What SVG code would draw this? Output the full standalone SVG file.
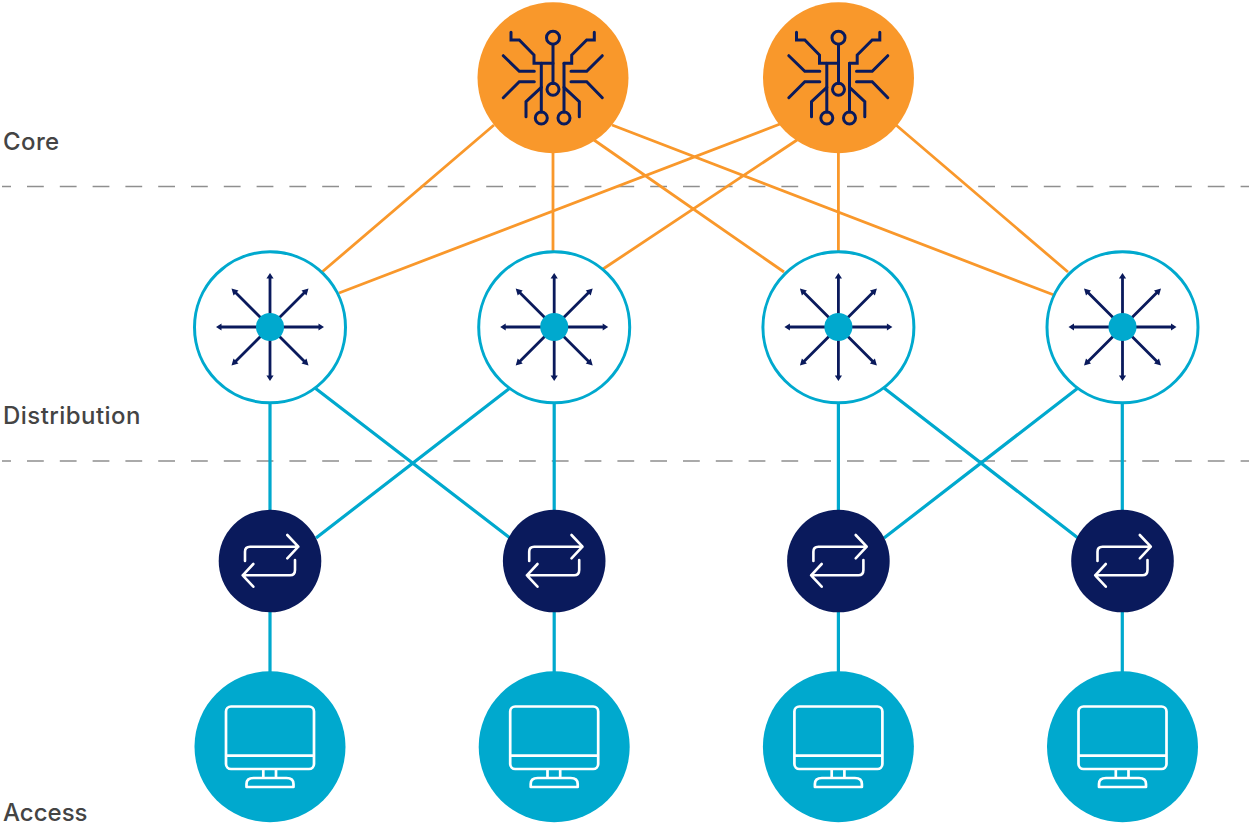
<svg xmlns="http://www.w3.org/2000/svg" width="1249" height="824" viewBox="0 0 1249 824">
<style>
.lbl{font-family:"Inter","Liberation Sans",sans-serif;font-size:24px;font-weight:500;fill:#444444}
.dash{stroke:#8f8f8f;stroke-width:1.3;stroke-dasharray:16.8 16;fill:none}
.o{stroke:#F9982B;stroke-width:2.8;fill:none}
.b{stroke:#00A9CE;stroke-width:3.2;fill:none}
.core{fill:#F9982B}
.ci{fill:none;stroke:#0A1A5C;stroke-width:3;stroke-linecap:round;stroke-linejoin:miter}
.dist{fill:#fff;stroke:#00A9CE;stroke-width:3}
.hub{fill:#00A9CE}
.di{fill:none;stroke:#0A1A5C;stroke-width:2.8}
.dh{fill:#0A1A5C}
.sw{fill:#0A1A5C}
.si{fill:none;stroke:#fff;stroke-width:2.6;stroke-linecap:round;stroke-linejoin:round}
.acc{fill:#00A9CE}
.ai{fill:none;stroke:#fff;stroke-width:2.7;stroke-linejoin:round}
</style>
<defs>
<g id="coreIcon">
<circle cx="0" cy="-39.3" r="6.5"/><circle cx="0" cy="12.3" r="6"/><circle cx="-11.7" cy="41" r="6"/><circle cx="11" cy="41" r="6"/>
<path d="M0-32.8V6.5M-11.7-13.7V35M11-13.7V35"/>
<path d="M-42-44.7V-37H-33.700L-19-22V-13.700H0"/>
<path d="M41.300-44.700V-37H33.700L18.700-22V-13.700H11"/>
<path d="M-49.700-21.300L-33.700-5.700H-18.700M-49.700 20.700L-33.700 4.700H-18.700"/>
<path d="M49.300-21.300L33.700-5.700H18M49.300 20.700L33.700 4.700H18"/>
<path d="M-11.700 10.300L-27 24.700V39.700M11 10.300L26.300 24.700V39.700"/>
</g>
<g id="distIcon">
<path class="di" d="M0-50V50M-50 0H50M-35-35L35 35M35-35L-35 35"/>
<g class="dh">
<path d="M0-54L3.600-48.500H-3.600ZM0 54L3.600 48.500H-3.600ZM-54 0L-48.500-3.600V3.600ZM54 0L48.500-3.600V3.600Z"/>
<path d="M38.500-38.500L36.500-31.500L31.500-36.500ZM-38.500-38.500L-31.500-36.500L-36.500-31.500ZM38.500 38.500L31.500 36.500L36.500 31.500ZM-38.500 38.500L-36.500 31.500L-31.500 36.500Z"/>
</g>
<circle class="hub" r="14"/>
</g>
<g id="swIcon" class="si">
<path d="M-25 0V-9.300Q-25-14.300-20-14.300H28.300M17.300-26L28.300-14.300L17.300-2.700"/>
<path d="M25-1V9Q25 14.300 20 14.300H-27.300M-16.700 3L-27.300 14.300L-16.700 25.700"/>
</g>
<g id="monIcon" class="ai">
<rect x="-44" y="-40.500" width="88" height="62.500" rx="5"/>
<path d="M-44 8.700H44M-6.700 22V31M6 22V31"/>
<path d="M-23.500 40V37Q-23.500 31-16.500 31H16.500Q23.500 31 23.500 37V40Z"/>
</g>
</defs>
<g id="tier-lines">
<line class="dash" x1="2" y1="186.500" x2="1249" y2="186.500" stroke-dashoffset="7.800"/>
<line class="dash" x1="2" y1="461" x2="1249" y2="461" stroke-dashoffset="7.800"/>
</g>
<g id="connectors">
<path class="o" d="M494 125L322 272M553 150V253M594 140L784 272M612 125L1054 295M780 124L339 293M797 140L603 269M838.400 150V253M896 125L1068 272"/>
<path class="b" d="M270 403V511M315 388L510 538M510 388L316 538M554.200 403V511M838.400 403V511M884 388L1078 538M1078 388L884 538M1122.300 398.500V511"/>
<path class="b" d="M270 611V673M554.200 611V673M838.400 611V673M1122.300 611V673"/>
</g>
<g id="core-1"><circle class="core" cx="553" cy="77.800" r="75.500"/><use href="#coreIcon" class="ci" x="553" y="77"/></g>
<g id="core-2"><circle class="core" cx="838.500" cy="77.800" r="75.500"/><use href="#coreIcon" class="ci" x="838.500" y="77"/></g>
<g id="dist-1"><circle class="dist" cx="270" cy="327.300" r="75.500"/><use href="#distIcon" x="270" y="327"/></g>
<g id="dist-2"><circle class="dist" cx="554.200" cy="327.300" r="75.500"/><use href="#distIcon" x="554.200" y="327"/></g>
<g id="dist-3"><circle class="dist" cx="838.400" cy="327.300" r="75.500"/><use href="#distIcon" x="838.400" y="327"/></g>
<g id="dist-4"><circle class="dist" cx="1122.500" cy="327.300" r="75.500"/><use href="#distIcon" x="1122.500" y="327"/></g>
<g id="switch-1"><circle class="sw" cx="270" cy="561" r="51.300"/><use href="#swIcon" x="270" y="561"/></g>
<g id="switch-2"><circle class="sw" cx="554.200" cy="561" r="51.300"/><use href="#swIcon" x="554.200" y="561"/></g>
<g id="switch-3"><circle class="sw" cx="838.400" cy="561" r="51.300"/><use href="#swIcon" x="838.400" y="561"/></g>
<g id="switch-4"><circle class="sw" cx="1122.500" cy="561" r="51.300"/><use href="#swIcon" x="1122.500" y="561"/></g>
<g id="access-1"><circle class="acc" cx="270" cy="746.800" r="75.500"/><use href="#monIcon" x="270" y="747"/></g>
<g id="access-2"><circle class="acc" cx="554.200" cy="746.800" r="75.500"/><use href="#monIcon" x="554.200" y="747"/></g>
<g id="access-3"><circle class="acc" cx="838.400" cy="746.800" r="75.500"/><use href="#monIcon" x="838.400" y="747"/></g>
<g id="access-4"><circle class="acc" cx="1122.500" cy="746.800" r="75.500"/><use href="#monIcon" x="1122.500" y="747"/></g>
<g id="labels">
<text class="lbl" x="3" y="150" letter-spacing="0.4">Core</text>
<text class="lbl" x="3" y="424" letter-spacing="0.45">Distribution</text>
<text class="lbl" x="3" y="821">Access</text>
</g>
</svg>
